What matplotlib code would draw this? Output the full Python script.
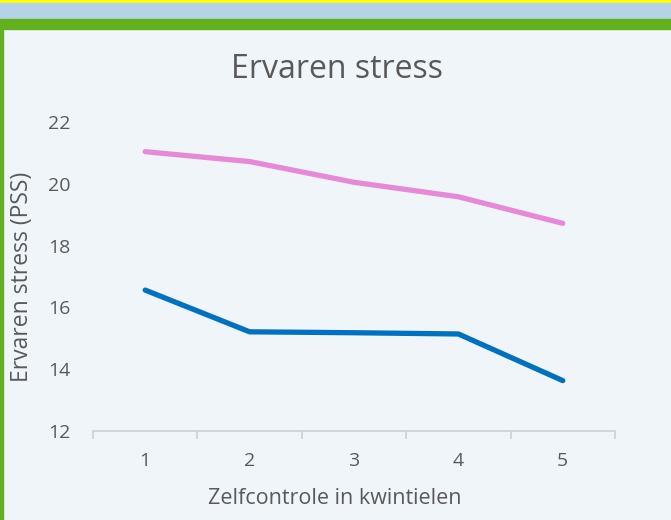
import matplotlib.pyplot as plt
from matplotlib.patches import Rectangle

plt.rcParams['font.family'] = ['Open Sans', 'DejaVu Sans']

# data
quintiles = [1, 2, 3, 4, 5]
tick_labels = ['1', '2', '3', '4', '5']
stress_pink = [21.04, 20.72, 20.05, 19.58, 18.72]
stress_blue = [16.56, 15.21, 15.18, 15.14, 13.63]

text_color = '#595959'
bg_color = '#F0F5FA'
W, H = 671, 520


def make_chart(output_file):
    fig = plt.figure(figsize=(W / 100, H / 100), dpi=100)
    fig.patch.set_facecolor(bg_color)

    # coloured bands along the top and a thin green border on the left
    fig.patches.append(Rectangle((0, 1 - 3 / H), 1, 3 / H, transform=fig.transFigure,
                                 color='#FFFF00', zorder=0))
    fig.patches.append(Rectangle((0, 1 - 19 / H), 1, 16 / H, transform=fig.transFigure,
                                 color='#B5D3E8', zorder=0))
    fig.patches.append(Rectangle((0, 1 - 29 / H), 1, 10 / H, transform=fig.transFigure,
                                 color='#63B11F', zorder=0))
    fig.patches.append(Rectangle((0, 0), 2.5 / W, 1 - 29 / H, transform=fig.transFigure,
                                 color='#63B11F', zorder=0))

    ax = fig.add_axes([93 / W, 1 - 431 / H, (615 - 93) / W, (431 - 122) / H])
    ax.set_facecolor(bg_color)

    ax.plot(quintiles, stress_pink, color='#E68AD8', linewidth=3.8, solid_capstyle='round',
            solid_joinstyle='round', clip_on=False)
    ax.plot(quintiles, stress_blue, color='#0070C0', linewidth=3.8, solid_capstyle='round',
            solid_joinstyle='round', clip_on=False)

    ax.set_xlim(0.5, 5.5)
    ax.set_ylim(12, 22)
    ax.set_yticks([12, 14, 16, 18, 20, 22])

    # tick marks at category boundaries, labels at the centres
    ax.set_xticks([0.5, 1.5, 2.5, 3.5, 4.5, 5.5])
    ax.set_xticklabels([])
    ax.set_xticks(quintiles, minor=True)
    ax.set_xticklabels(tick_labels, minor=True)
    ax.tick_params(axis='x', which='major', length=6, color='#D0D0D0', width=1.2)
    ax.tick_params(axis='x', which='minor', length=0, pad=15, labelsize=14, labelcolor=text_color)
    ax.tick_params(axis='y', length=0, pad=16.5, labelsize=14, labelcolor=text_color)

    for side in ['top', 'right', 'left']:
        ax.spines[side].set_visible(False)
    ax.spines['bottom'].set_color('#D0D0D0')
    ax.spines['bottom'].set_linewidth(1.2)

    # title and axis titles are centred on the chart area, not the plot area
    fig.text(337 / W, 1 - 70 / H, 'Ervaren stress', fontsize=23, color=text_color,
             ha='center', va='center')
    fig.text(335 / W, 1 - 498 / H, 'Zelfcontrole in kwintielen', fontsize=15.5,
             color=text_color, ha='center', va='center')
    fig.text(22 / W, 1 - 277 / H, 'Ervaren stress (PSS)', fontsize=16.5, color=text_color,
             ha='center', va='center', rotation=90)

    fig.savefig(output_file, dpi=100, facecolor=fig.get_facecolor())


def main():
    make_chart('out.png')


if __name__ == "__main__":
    main()
